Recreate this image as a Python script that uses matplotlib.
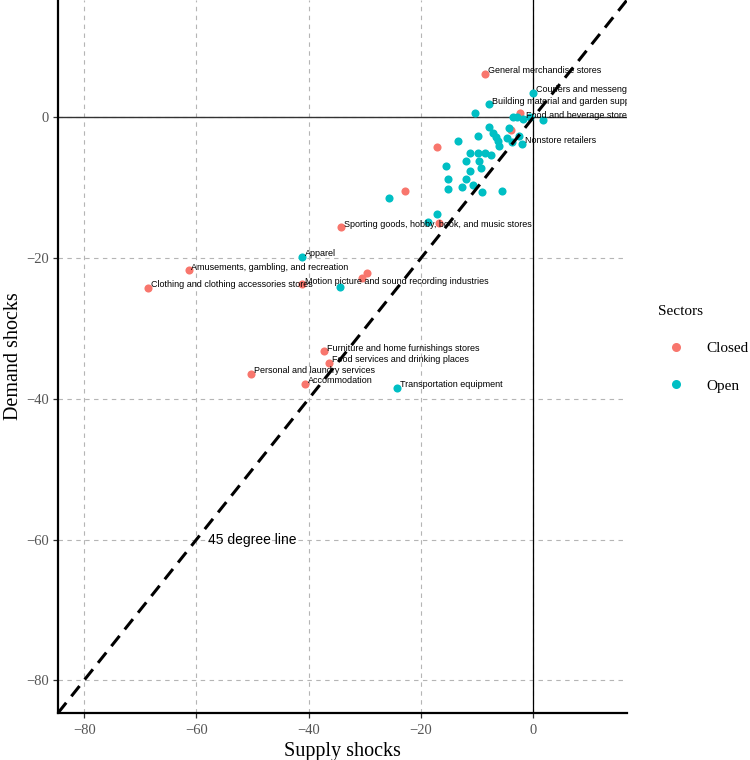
import matplotlib
matplotlib.use("Agg")
import matplotlib.pyplot as plt
from matplotlib.lines import Line2D

# sectors closed during lockdown: supply shock, demand shock (%), label
closed_supply = [-8.55, -2.3, -3.9, -17.1, -22.9, -34.2, -16.8, -61.4,
                 -68.6, -41.2, -30.5, -29.6, -37.2, -36.3, -50.2, -40.6]
closed_demand = [6.2, 0.65, -1.85, -4.2, -10.4, -15.6, -15.0, -21.7,
                 -24.2, -23.7, -22.8, -22.1, -33.25, -34.9, -36.4, -37.9]
closed_names = ["General merchandise stores", "", "", "", "",
                "Sporting goods, hobby, book, and music stores", "",
                "Amusements, gambling, and recreation",
                "Clothing and clothing accessories stores",
                "Motion picture and sound recording industries", "", "",
                "Furniture and home furnishings stores",
                "Food services and drinking places",
                "Personal and laundry services", "Accommodation"]

# sectors that stayed open
open_supply = [0.0, -7.9, -10.3, -1.8, -3.6, -2.9, -0.5, 1.65,
               -2.0, -7.9, -7.25, -6.65, -6.2, -6.05, -9.9, -13.4,
               -4.6, -3.8, -2.5, -4.4, -11.35, -9.9, -8.55, -7.55,
               -11.9, -9.75, -9.25, -11.2, -15.6, -15.1, -11.9, -10.8,
               -12.7, -15.1, -9.2, -5.5, -25.7, -17.1, -18.8, -41.2,
               -34.5, -24.2]
open_demand = [3.5, 1.85, 0.6, -0.2, 0.05, 0.05, 0.05, -0.3,
               -3.7, -1.3, -2.2, -2.8, -3.3, -4.1, -2.6, -3.4,
               -2.9, -3.5, -2.7, -1.5, -5.07, -5.0, -5.0, -5.35,
               -6.25, -6.15, -7.2, -7.6, -6.9, -8.8, -8.7, -9.6,
               -9.9, -10.2, -10.6, -10.4, -11.5, -13.7, -14.9, -19.85,
               -24.05, -38.4]
open_names = ["Couriers and messengers",
              "Building material and garden supply stores", "",
              "Food and beverage stores", "", "", "", "",
              "Nonstore retailers"] + [""] * 30 + ["Apparel", "",
                                                    "Transportation equipment"]

red = "#F8766D"
cyan = "#00BFC4"
serif = "Liberation Serif"
sans = "Liberation Sans"
lims = (-84.66, 16.7)

fig = plt.figure(figsize=(7.5, 7.6), dpi=100)
ax = fig.add_axes([58 / 750, 47 / 760, 569 / 750, 713 / 760])

ax.set_xlim(lims)
ax.set_ylim(lims)
ticks = [-80, -60, -40, -20, 0]
ax.set_xticks(ticks)
ax.set_yticks(ticks)
ax.grid(True, color="#b5b5b5", lw=0.8, linestyle=(0, (4, 4)), zorder=0)
ax.set_axisbelow(True)

ax.axhline(0, color="#333333", lw=1.0, zorder=1)
ax.axvline(0, color="black", lw=0.9, zorder=1)

ax.scatter(closed_supply, closed_demand, s=34, color=red, lw=0, zorder=2)
ax.scatter(open_supply, open_demand, s=34, color=cyan, lw=0, zorder=2)

ax.axline((0, 0), slope=1, color="black", lw=2.2,
          linestyle=(0, (4.3, 2.7)), zorder=3)
ax.text(-50, -60, "45 degree line", ha="center", va="center",
        fontsize=10, family=sans, zorder=4)

for xs, ys, names in [(closed_supply, closed_demand, closed_names),
                      (open_supply, open_demand, open_names)]:
    for x, y, n in zip(xs, ys, names):
        if n:
            ax.annotate(n, (x, y), xytext=(2, -1), textcoords="offset points",
                        ha="left", va="bottom", fontsize=6.5, family=sans,
                        clip_on=True, zorder=4)

for side in ["top", "right"]:
    ax.spines[side].set_visible(False)
for side in ["left", "bottom"]:
    ax.spines[side].set_linewidth(1.6)
    ax.spines[side].set_color("black")

ax.tick_params(length=3.5, width=0.9, color="#333333", labelcolor="#555555",
               labelsize=10.5, pad=3)
ax.tick_params(axis="x", pad=4.5)
for lab in ax.get_xticklabels() + ax.get_yticklabels():
    lab.set_family(serif)

ax.set_xlabel("Supply shocks", fontsize=14.5, family=serif, labelpad=3.5)
ax.set_ylabel("Demand shocks", fontsize=14.5, family=serif, labelpad=2)

handles = [Line2D([], [], marker="o", ls="", color=red, markersize=6.5,
                  markeredgewidth=0),
           Line2D([], [], marker="o", ls="", color=cyan, markersize=6.5,
                  markeredgewidth=0)]
leg = fig.legend(handles, ["Closed", "Open"], title="Sectors",
                 loc="upper left", bbox_to_anchor=(658 / 750, 1 - 305 / 760),
                 frameon=False, prop={"family": serif, "size": 11},
                 title_fontproperties={"family": serif, "size": 11},
                 handlelength=2.4, handletextpad=0.75, labelspacing=1.55,
                 borderaxespad=0, borderpad=0, alignment="left")

fig.savefig("out.png", dpi=100)
